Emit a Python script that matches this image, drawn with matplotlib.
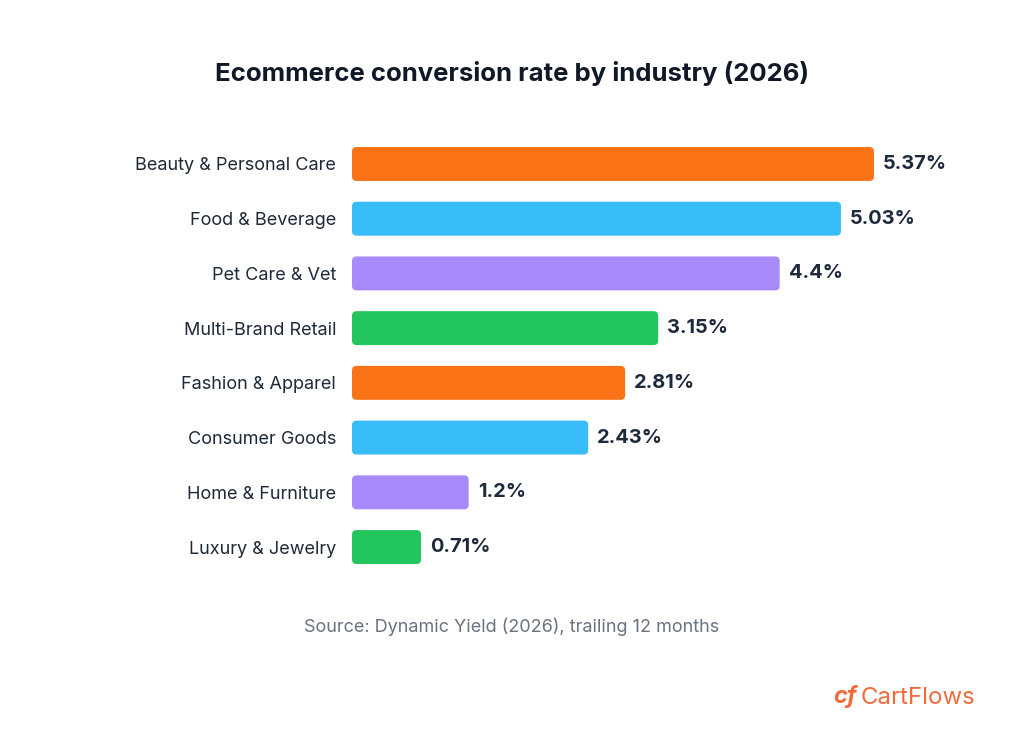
import matplotlib
matplotlib.use("Agg")
import matplotlib.pyplot as plt
from matplotlib.patches import FancyBboxPatch

categories = ["Beauty & Personal Care", "Food & Beverage", "Pet Care & Vet",
              "Multi-Brand Retail", "Fashion & Apparel", "Consumer Goods",
              "Home & Furniture", "Luxury & Jewelry"]
values = [5.37, 5.03, 4.4, 3.15, 2.81, 2.43, 1.2, 0.71]
value_labels = ["5.37%", "5.03%", "4.4%", "3.15%", "2.81%", "2.43%", "1.2%", "0.71%"]
colors = ["#F97316", "#38BDF8", "#A78BFA", "#22C55E",
          "#F97316", "#38BDF8", "#A78BFA", "#22C55E"]

plt.rcParams['font.family'] = ['Inter', 'DejaVu Sans']
W, H = 1024, 737
fig = plt.figure(figsize=(W / 100, H / 100), dpi=100)
fig.patch.set_facecolor("white")

xmax = 6.0
ax_left, ax_right = 352, 352 + 97.2 * xmax
ax_top, ax_bot = 136.6, 574.4
ax = fig.add_axes([ax_left / W, 1 - ax_bot / H, (ax_right - ax_left) / W, (ax_bot - ax_top) / H])
ax.set_xlim(0, xmax)
ax.set_ylim(len(categories) - 0.5, -0.5)
for s in ax.spines.values():
    s.set_visible(False)
ax.set_xticks([])
ax.set_yticks(range(len(categories)))
ax.set_yticklabels(categories, fontsize=13, color="#1f2937")
ax.tick_params(axis="y", length=0, pad=11.5)

bar_h = 0.62
px_x = 97.2
px_y = (ax_bot - ax_top) / len(categories)
r = 4.5 / px_x
aspect = px_x / px_y
for i, (v, c, lab) in enumerate(zip(values, colors, value_labels)):
    p = FancyBboxPatch((0, i - bar_h / 2), v, bar_h,
                       boxstyle=f"round,pad=0,rounding_size={r}",
                       mutation_aspect=aspect, facecolor=c, edgecolor="none")
    ax.add_patch(p)
    ax.annotate(lab, (v, i), xytext=(6.5, 0), textcoords="offset points",
                va="center", ha="left", fontsize=14.4, fontweight="bold", color="#1e293b")

fig.text(0.5, 1 - 73 / H, "Ecommerce conversion rate by industry (2026)",
         ha="center", va="center", fontsize=18.5, fontweight="bold", color="#111827")
fig.text(0.5, 1 - 627 / H, "Source: Dynamic Yield (2026), trailing 12 months",
         ha="center", va="center", fontsize=13, color="#6b7280")
fig.text(975 / W, 1 - 698 / H, "CartFlows", ha="right", va="center",
         fontsize=17.3, color="#F26B3A")
fig.text(845 / W, 1 - 697 / H, "cf", ha="center", va="center",
         fontsize=17, fontweight="bold", fontstyle="italic", color="#F26B3A")

fig.savefig("out.png", dpi=100, facecolor="white")
